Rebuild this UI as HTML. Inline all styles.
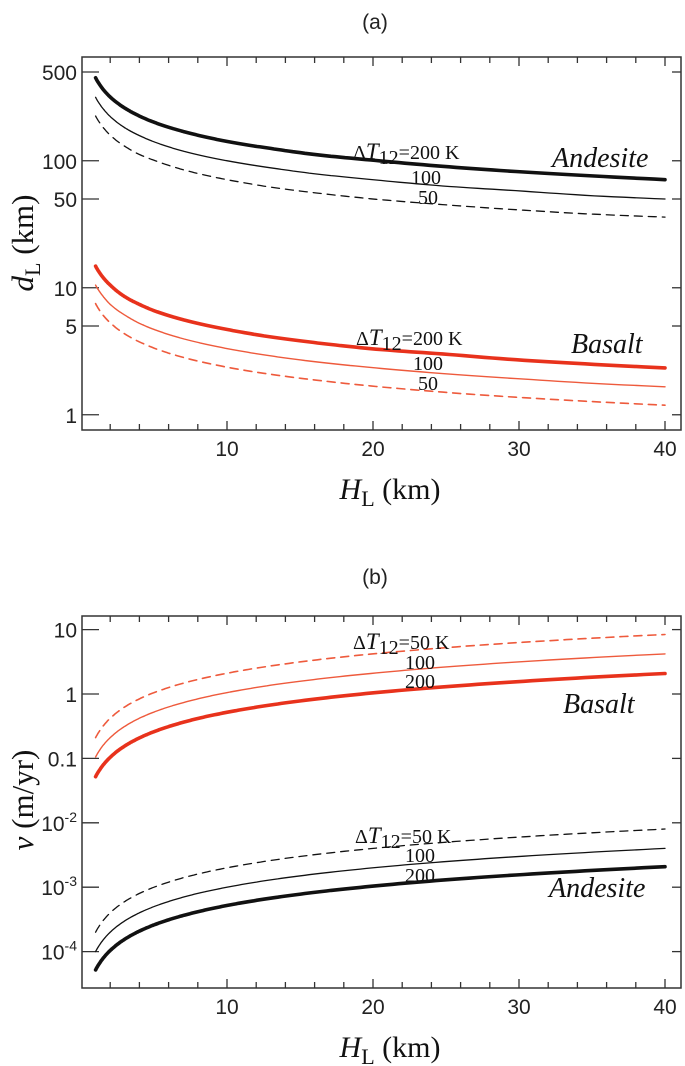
<!DOCTYPE html>
<html><head><meta charset="utf-8"><style>
body{margin:0;background:#fff}
svg{display:block}
.tk{font-family:"Liberation Sans",sans-serif;font-size:21px;fill:#222}
.sr{font-family:"Liberation Serif",serif;fill:#111}
</style></head><body>
<svg id="fig" width="685" height="1066" viewBox="0 0 685 1066">
<text x="375" y="29" text-anchor="middle" class="tk" font-size="24">(a)</text>
<text x="375" y="584" text-anchor="middle" class="tk" font-size="24">(b)</text>
<g id="pa"></g>
<g id="pb"></g>
</svg>
<script>
const H = [1,1.5,2,3,4,5,7,10,13,16,20,25,30,35,40];
const dA200 = [450,367,318,260,225,201,170,142,125,112,101,90,82,76,71];
const dA100 = [316,258,223,182,158,141,119,100,88,79,71,63,58,53,50];
const dA50 = [225,184,159,130,112,101,85,71,62,56,50,45,41,38,36];
const dB200 = [14.8,12.1,10.5,8.5,7.4,6.6,5.6,4.7,4.1,3.7,3.3,3.0,2.7,2.5,2.34];
const dB100 = [10.5,8.6,7.4,6.1,5.25,4.7,3.97,3.32,2.91,2.62,2.35,2.1,1.92,1.77,1.66];
const dB50 = [7.5,6.1,5.3,4.33,3.75,3.35,2.83,2.37,2.08,1.88,1.68,1.5,1.37,1.27,1.19];
const vB50 = [0.21,0.315,0.42,0.63,0.84,1.05,1.47,2.1,2.73,3.36,4.2,5.25,6.3,7.35,8.4];
const vB100 = [0.105,0.158,0.21,0.315,0.42,0.525,0.735,1.05,1.37,1.68,2.1,2.63,3.15,3.68,4.2];
const vB200 = [0.052,0.078,0.104,0.156,0.208,0.26,0.364,0.52,0.676,0.832,1.04,1.3,1.56,1.82,2.08];
const vA50 = [2e-4,3e-4,4e-4,6e-4,8e-4,1e-3,1.4e-3,2e-3,2.6e-3,3.2e-3,4e-3,5e-3,6e-3,7e-3,8e-3];
const vA100 = [1e-4,1.5e-4,2e-4,3e-4,4e-4,5e-4,7e-4,1e-3,1.3e-3,1.6e-3,2e-3,2.5e-3,3e-3,3.5e-3,4e-3];
const vA200 = [5.2e-5,7.8e-5,1.04e-4,1.56e-4,2.08e-4,2.6e-4,3.64e-4,5.2e-4,6.76e-4,8.32e-4,1.04e-3,1.3e-3,1.56e-3,1.82e-3,2.08e-3];
const xTicks = [10,20,30,40];
const yTicksA = [500,100,50,10,5,1];
const yLabelsA = ["500","100","50","10","5","1"];
const yTicksB = [10,1,0.1,0.01,0.001,0.0001];
const yLabelsB = ["10","1","0.1","10^-2","10^-3","10^-4"];

const NS="http://www.w3.org/2000/svg";
const L=82,R=681;
const xs=h=>81+h*14.6;
function mk(par,tag,at){const e=document.createElementNS(NS,tag);for(const k in at)e.setAttribute(k,at[k]);par.appendChild(e);return e;}
function pathFrom(vals,ys){let d="";const N=200;
  for(let k=0;k<=N;k++){const lh=Math.log(H[0])+(Math.log(H[H.length-1])-Math.log(H[0]))*k/N;const h=Math.exp(lh);
    let i=0;while(i<H.length-2&&H[i+1]<h)i++;
    const t=(lh-Math.log(H[i]))/(Math.log(H[i+1])-Math.log(H[i]));
    const lv=Math.log(vals[i])+(Math.log(vals[i+1])-Math.log(vals[i]))*t;
    d+=(k?"L":"M")+xs(h).toFixed(1)+","+ys(Math.exp(lv)).toFixed(1);}
  return d;}

function panel(g,top,bot,ys,yt,yl,series){
  const fr=mk(g,'rect',{x:L,y:top,width:R-L,height:bot-top,fill:'none',stroke:'#333','stroke-width':1.5});
  
  for(let h=2;h<=40;h+=2){const x=xs(h),len=(h%10==0)?9:6;
    const t1=mk(g,'line',{x1:x,x2:x,y1:bot,y2:bot-len,stroke:'#333','stroke-width':1.3});
    
    const t2=mk(g,'line',{x1:x,x2:x,y1:top,y2:top+len,stroke:'#333','stroke-width':1.3});
    }
  xTicks.forEach(v=>{const t=mk(g,'text',{x:xs(v),y:bot+26,'text-anchor':'middle',class:'tk'});t.textContent=v;
    });
  yt.forEach((v,i)=>{const y=ys(v);
    const a=mk(g,'line',{x1:L,x2:L+17,y1:y,y2:y,stroke:'#333','stroke-width':1.3});
    
    const b=mk(g,'line',{x1:R,x2:R-9,y1:y,y2:y,stroke:'#333','stroke-width':1.3});
    
    const lab=yl[i];const t=mk(g,'text',{x:77,y:y+8,'text-anchor':'end',class:'tk'});
    
    if(lab.includes('^')){const [b1,e]=lab.split('^');t.textContent=b1;const s=mk(t,'tspan',{dy:-9,'font-size':14});s.textContent=e;}
    else t.textContent=lab;});
  series.forEach(s=>{
    const p=mk(g,'path',{d:pathFrom(s.v,ys),fill:'none',stroke:s.c,'stroke-width':s.w,'stroke-dasharray':s.dash||'none','stroke-linecap':'round','stroke-linejoin':'round'});
    });
  const xt=mk(g,'text',{x:390,y:bot+69,'text-anchor':'middle',class:'sr','font-size':30});
  
  const i1=mk(xt,'tspan',{'font-style':'italic'});i1.textContent='H';
  const i2=mk(xt,'tspan',{dy:7,'font-size':22});i2.textContent='L';
  const i3=mk(xt,'tspan',{dy:-7});i3.textContent=' (km)';
}
const red='#e8321c',redL='#ee5a3c';
const pa=document.getElementById('pa');
const ysA=v=>72-(Math.log10(v)-Math.log10(500))*127;
panel(pa,57,430,ysA,yTicksA,yLabelsA,[
 {v:dA200,c:'#111',w:3.6,n:'andesite-200k-line'},{v:dA100,c:'#111',w:1.3,n:'andesite-100k-line'},{v:dA50,c:'#111',w:1.3,dash:'8 6',n:'andesite-50k-line'},
 {v:dB200,c:red,w:3.6,n:'basalt-200k-line'},{v:dB100,c:redL,w:1.4,n:'basalt-100k-line'},{v:dB50,c:redL,w:1.6,dash:'8 6',n:'basalt-50k-line'}]);
const pb=document.getElementById('pb');
const ysB=v=>694-Math.log10(v)*64.4;
panel(pb,616,988,ysB,yTicksB,yLabelsB,[
 {v:vB50,c:redL,w:1.6,dash:'8 6',n:'basalt-50k-line'},{v:vB100,c:redL,w:1.4,n:'basalt-100k-line'},{v:vB200,c:red,w:3.6,n:'basalt-200k-line'},
 {v:vA50,c:'#111',w:1.3,dash:'8 6',n:'andesite-50k-line'},{v:vA100,c:'#111',w:1.3,n:'andesite-100k-line'},{v:vA200,c:'#111',w:3.6,n:'andesite-200k-line'}]);

function lbl(g,x,y,txt,fs,name,it){const t=mk(g,'text',{x:x,y:y,class:'sr','font-size':fs,'font-style':it?'italic':'normal'});t.textContent=txt;
 return t;}
function dt(g,x,y,val,name){const t=mk(g,'text',{x:x,y:y,class:'sr','font-size':20});
 
 const a=mk(t,'tspan',{});a.textContent='Δ';const b=mk(t,'tspan',{'font-style':'italic','font-size':23});b.textContent='T';
 const c=mk(t,'tspan',{dy:5,'font-size':20});c.textContent='12';const d=mk(t,'tspan',{dy:-5});d.textContent='='+val+' K';}
dt(pa,353,159,'200','andesite-dt-label');lbl(pa,411,184,'100',20,'andesite-100-label');lbl(pa,418,204,'50',20,'andesite-50-label');
lbl(pa,552,167,'Andesite',28,'andesite-label',true);
dt(pa,356,345,'200','basalt-dt-label');lbl(pa,413,370,'100',20,'basalt-100-label');lbl(pa,418,390,'50',20,'basalt-50-label');
lbl(pa,571,353,'Basalt',28,'basalt-label',true);
dt(pb,353,649,'50','basalt-dt-label');lbl(pb,405,669,'100',20,'basalt-100-label');lbl(pb,405,688,'200',20,'basalt-200-label');
lbl(pb,563,713,'Basalt',28,'basalt-label',true);
dt(pb,355,843,'50','andesite-dt-label');lbl(pb,405,862,'100',20,'andesite-100-label');lbl(pb,405,882,'200',20,'andesite-200-label');
lbl(pb,549,897,'Andesite',28,'andesite-label',true);

function ytitle(g,cy,main,sub,name){const t=mk(g,'text',{x:0,y:0,class:'sr','font-size':31,transform:'translate(33,'+cy+') rotate(-90)','text-anchor':'middle'});
 
 const a=mk(t,'tspan',{'font-style':'italic'});a.textContent=main;
 if(sub){const b=mk(t,'tspan',{dy:7,'font-size':22});b.textContent=sub;const c=mk(t,'tspan',{dy:-7});c.textContent=' (km)';}
 else{const c=mk(t,'tspan',{});c.textContent=' (m/yr)';}}
ytitle(pa,243,'d','L','y-axis-title');
ytitle(pb,800,'v',null,'y-axis-title');
</script>
</body></html>
